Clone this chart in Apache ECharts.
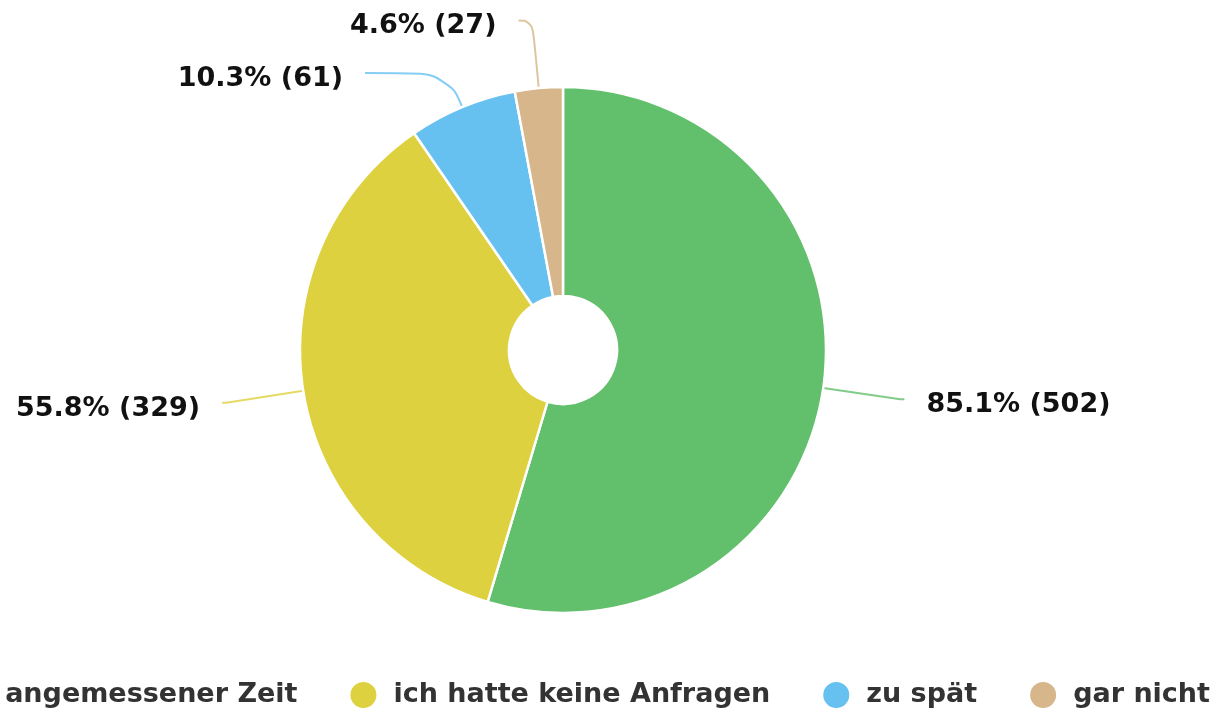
<!DOCTYPE html>
<html>
<head>
<meta charset="utf-8">
<title>Antworten</title>
<script src="https://cdn.jsdelivr.net/npm/echarts@6/dist/echarts.min.js"></script>
<style>
  html, body { margin: 0; padding: 0; background: #fff; }
  #chart { width: 1215px; height: 709px; }
</style>
</head>
<body>
<div id="chart"></div>
<script>
// answer categories, counts and the shown share of respondents
const categories = ['in angemessener Zeit', 'ich hatte keine Anfragen', 'zu spät', 'gar nicht'];
const counts = [502, 329, 61, 27];
const percents = [85.1, 55.8, 10.3, 4.6];
const colors = ['#62bf6b', '#ded13f', '#66c1f0', '#d6b68a'];

// label line lengths per slice [length, length2], so the small slices' labels keep apart
const lineLengths = [[78, 4], [78, 4], [37, 83], [68, 14]];

const chart = echarts.init(document.getElementById('chart'));

const pieData = categories.map((name, i) => ({
    name: name,
    value: counts[i],
    pct: percents[i],
    labelLine: { length: lineLengths[i][0], length2: lineLengths[i][1] }
}));

chart.setOption({
    color: colors,
    animation: false,
    legend: {
        data: categories,
        orient: 'horizontal',
        right: 0,
        top: 675,
        width: 2000,
        icon: 'circle',
        itemWidth: 50,
        itemHeight: 28,
        itemGap: 51,
        textStyle: {
            fontFamily: 'DejaVu Sans',
            fontWeight: 'bold',
            fontSize: 27,
            color: '#333'
        }
    },
    series: [{
        type: 'pie',
        center: [563, 350],
        radius: [54, 263],
        startAngle: 90,
        clockwise: true,
        avoidLabelOverlap: false,
        data: pieData,
        itemStyle: {
            borderColor: '#fff',
            borderWidth: 2.5
        },
        label: {
            show: true,
            // small empty first line pushes the text a little below the line end
            formatter: p => '{s| }\n{t|' + p.data.pct + '% (' + p.value + ')}',
            distanceToLabelLine: 22,
            rich: {
                s: { fontSize: 1, lineHeight: 12 },
                t: {
                    fontFamily: 'DejaVu Sans',
                    fontWeight: 'bold',
                    fontSize: 27,
                    lineHeight: 32,
                    color: '#111'
                }
            }
        },
        labelLine: {
            show: true,
            smooth: 0.5,
            lineStyle: { width: 2, opacity: 0.8 }
        },
        emphasis: { disabled: true }
    }]
});
</script>
</body>
</html>
